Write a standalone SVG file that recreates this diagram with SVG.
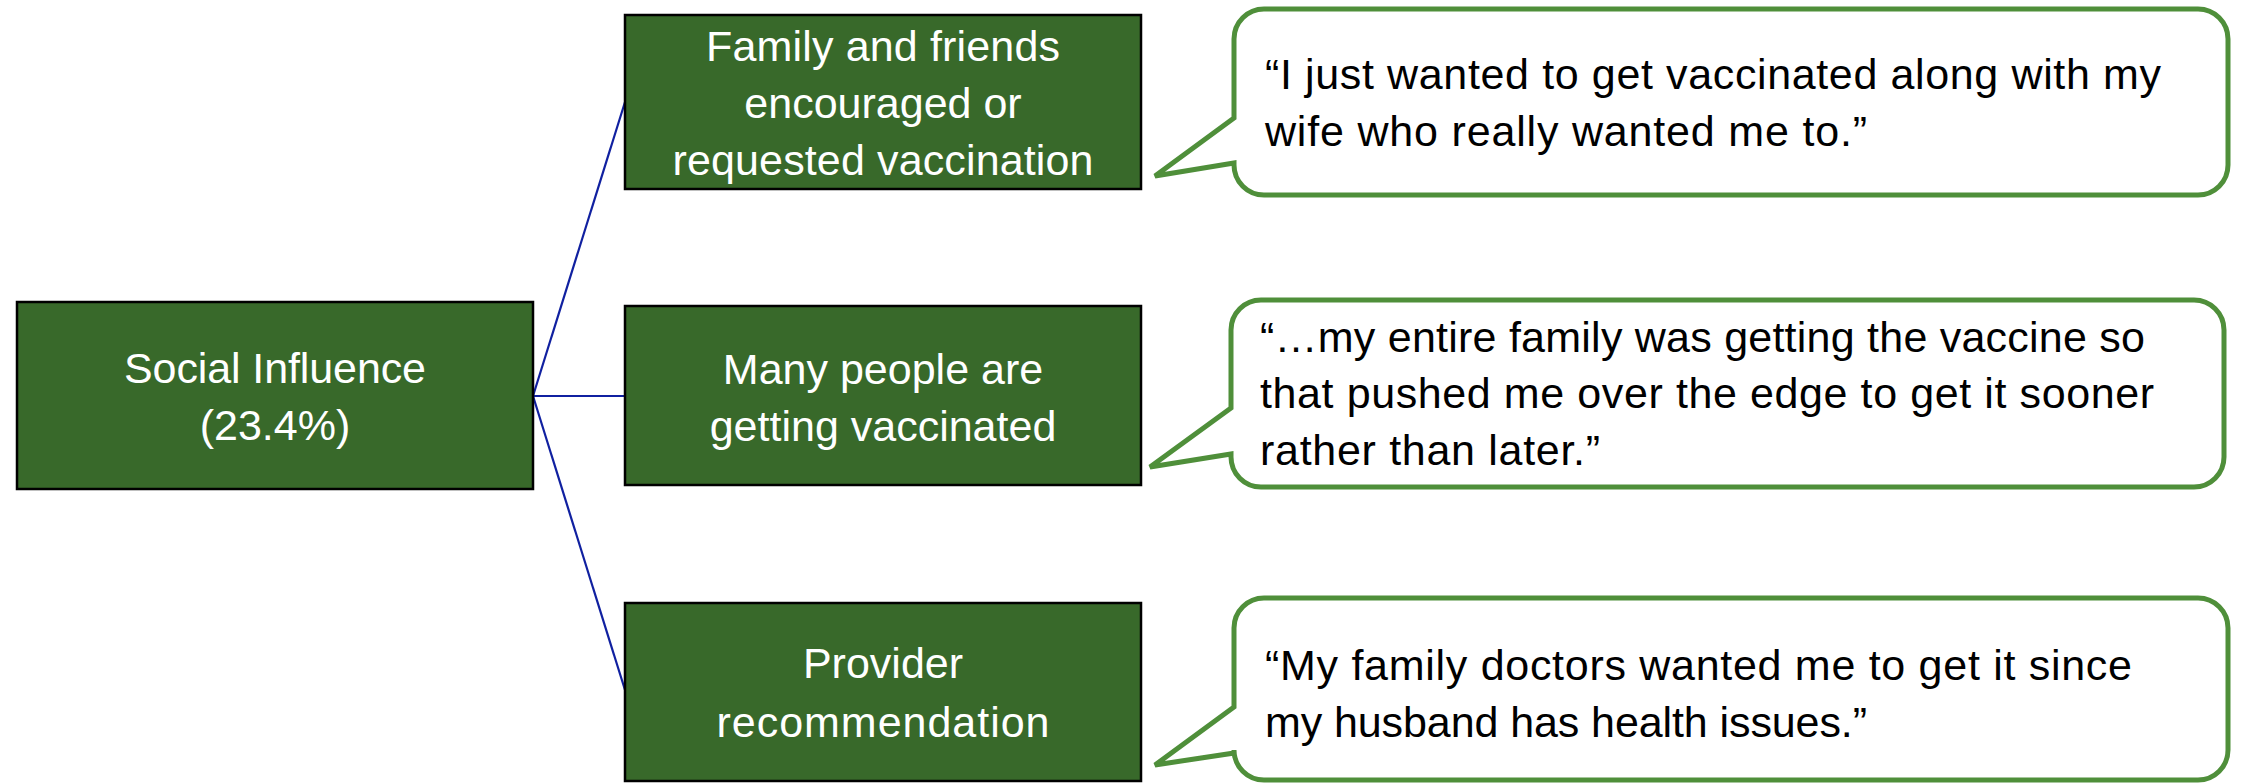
<svg xmlns="http://www.w3.org/2000/svg" width="2241" height="783" viewBox="0 0 2241 783">
<style>
.node{fill:#38692A;stroke:#000;stroke-width:2.5}
.nt{font-family:"Liberation Sans",Arial,sans-serif;font-size:43px;fill:#fff;text-anchor:middle}
.bub{fill:#fff;stroke:#4F8F3A;stroke-width:5;stroke-linejoin:miter}
.qt{font-family:"Liberation Sans",Arial,sans-serif;font-size:43px;fill:#000}
.conn{stroke:#1020A0;stroke-width:2.2;fill:none}
</style>
<rect width="2241" height="783" fill="#fff"/>
<g id="connectors">
<line class="conn" x1="533" y1="396" x2="625" y2="102"/>
<line class="conn" x1="533" y1="396" x2="625" y2="396"/>
<line class="conn" x1="533" y1="396" x2="625" y2="690"/>
</g>
<g id="social-influence">
<rect class="node" x="17" y="302" width="516" height="187"/>
<text class="nt" x="275" y="383" textLength="302">Social Influence</text>
<text class="nt" x="275" y="440">(23.4%)</text>
</g>
<g id="family-friends">
<rect class="node" x="625" y="15" width="516" height="174"/>
<text class="nt" x="883" y="61" textLength="354">Family and friends</text>
<text class="nt" x="883" y="118">encouraged or</text>
<text class="nt" x="883" y="175" textLength="421">requested vaccination</text>
</g>
<g id="many-people">
<rect class="node" x="625" y="306" width="516" height="179"/>
<text class="nt" x="883" y="384">Many people are</text>
<text class="nt" x="883" y="441">getting vaccinated</text>
</g>
<g id="provider">
<rect class="node" x="625" y="603" width="516" height="178"/>
<text class="nt" x="883" y="678">Provider</text>
<text class="nt" x="883" y="737" textLength="333">recommendation</text>
</g>
<g id="quote-1">
<path class="bub" d="M1264,9 H2198 A30,30 0 0 1 2228,39 V165 A30,30 0 0 1 2198,195 H1264 A30,30 0 0 1 1234,165 V163 L1155,176 L1234,118 V39 A30,30 0 0 1 1264,9 Z"/>
<text class="qt" x="1265" y="89" textLength="896">“I just wanted to get vaccinated along with my</text>
<text class="qt" x="1265" y="146" textLength="602">wife who really wanted me to.”</text>
</g>
<g id="quote-2">
<path class="bub" d="M1261,300 H2194 A30,30 0 0 1 2224,330 V457 A30,30 0 0 1 2194,487 H1261 A30,30 0 0 1 1231,457 V454 L1150,467 L1231,408 V330 A30,30 0 0 1 1261,300 Z"/>
<text class="qt" x="1260" y="352" textLength="885">“…my entire family was getting the vaccine so</text>
<text class="qt" x="1260" y="408" textLength="894">that pushed me over the edge to get it sooner</text>
<text class="qt" x="1260" y="465" textLength="340">rather than later.”</text>
</g>
<g id="quote-3">
<path class="bub" d="M1264,598 H2198 A30,30 0 0 1 2228,628 V750 A30,30 0 0 1 2198,780 H1264 A30,30 0 0 1 1234,750 V753 L1155,765 L1234,707 V628 A30,30 0 0 1 1264,598 Z"/>
<text class="qt" x="1265" y="680" textLength="867">“My family doctors wanted me to get it since</text>
<text class="qt" x="1265" y="737" textLength="602">my husband has health issues.”</text>
</g>
</svg>
